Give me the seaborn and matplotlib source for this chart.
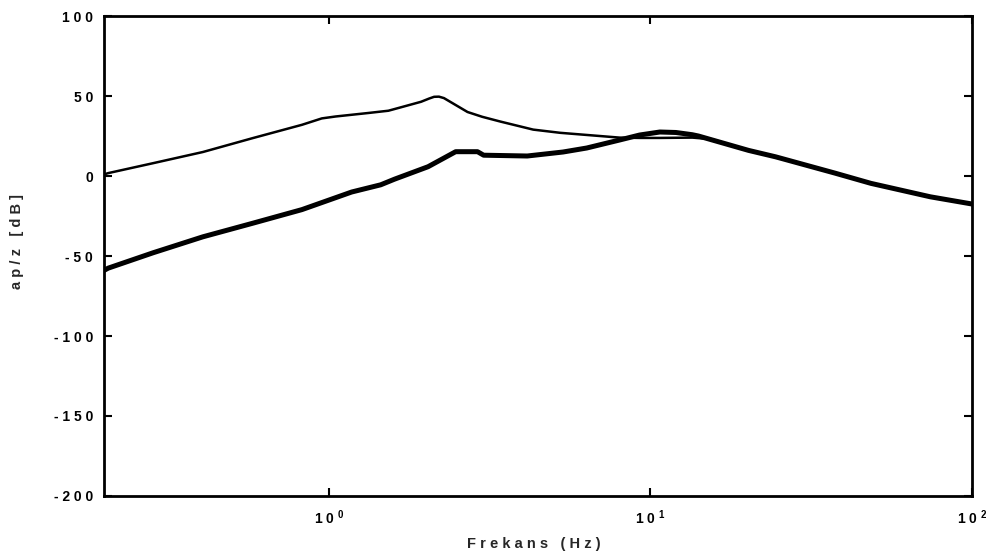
import matplotlib
matplotlib.use("Agg")
import matplotlib.pyplot as plt
import matplotlib.ticker as mticker
import numpy as np
import pandas as pd
import seaborn as sns

# Frequency response data (frequency in Hz, magnitude in dB)
freq_thin = [0.2, 0.206, 0.284, 0.406, 0.578, 0.825, 0.951, 1.05, 1.329, 1.532,
             1.68, 1.936, 2.05, 2.125, 2.2, 2.28, 2.45, 2.70, 3.0, 3.42,
             4.32, 5.24, 6.96, 8.02, 9.25, 10.7, 13.5, 15.5, 20.2, 24.5,
             37.5, 48.5, 74.2, 100.0]
mag_thin = [1.0, 1.8, 8.0, 15.0, 23.6, 32.0, 36.0, 37.2, 39.4, 40.8,
            43.0, 46.4, 48.4, 49.5, 49.6, 48.7, 45.0, 40.0, 37.0, 34.0,
            29.0, 27.0, 25.0, 24.0, 23.8, 23.8, 24.0, 23.0, 16.0, 12.0,
            1.8, -4.6, -13.0, -17.5]

freq_thick = [0.2, 0.206, 0.284, 0.406, 0.578, 0.825, 1.178, 1.45, 1.6, 2.035,
              2.48, 2.90, 3.03, 4.14, 5.35, 6.34, 8.02, 9.25, 10.7, 12.0,
              13.5, 14.1, 20.2, 24.5, 37.5, 48.5, 74.2, 100.0]
mag_thick = [-59.0, -57.6, -48.0, -38.0, -29.6, -21.0, -10.0, -5.5, -2.0, 5.8,
             15.2, 15.2, 13.0, 12.5, 15.0, 17.5, 22.5, 25.6, 27.5, 27.2,
             25.8, 25.0, 16.0, 12.0, 1.8, -4.6, -13.0, -17.5]

y_ticks = [-200, -150, -100, -50, 0, 50, 100]
x_ticks = [1, 10, 100]
x_label = "Frekans (Hz)"
y_label = "ap/z [dB]"


def spaced(s):
    """Spread characters out, as in the old plotter lettering."""
    return " ".join(s)


sns.set_style("ticks")
plt.rcParams["font.family"] = ["Liberation Sans", "DejaVu Sans"]
plt.rcParams["font.weight"] = "bold"
plt.rcParams["mathtext.fontset"] = "custom"
plt.rcParams["mathtext.rm"] = "Liberation Sans:bold"
plt.rcParams["mathtext.it"] = "Liberation Sans:bold"
plt.rcParams["mathtext.bf"] = "Liberation Sans:bold"

fig = plt.figure(figsize=(9.87, 5.54), dpi=100)
ax = fig.add_axes([0.1054, 0.1047, 0.8794, 0.8664])

df_thin = pd.DataFrame({"f": freq_thin, "dB": mag_thin})
df_thick = pd.DataFrame({"f": freq_thick, "dB": mag_thick})

sns.lineplot(data=df_thin, x="f", y="dB", ax=ax, color="black",
             linewidth=1.8, sort=False, estimator=None)
sns.lineplot(data=df_thick, x="f", y="dB", ax=ax, color="black",
             linewidth=3.6, sort=False, estimator=None)

ax.set_xscale("log")
ax.set_xlim(0.2, 100)
ax.set_ylim(-200, 100)

ax.set_xticks(x_ticks)
ax.xaxis.set_minor_locator(mticker.NullLocator())
ax.set_xticklabels([spaced("10") + " $^{%d}$" % int(np.log10(v)) for v in x_ticks])
ax.set_yticks(y_ticks)
ax.set_yticklabels([spaced(str(v)) for v in y_ticks])

ax.tick_params(axis="both", which="major", direction="in", length=6, width=1.5,
               top=True, right=True, labelsize=10, colors="black")
ax.tick_params(axis="x", pad=9)
ax.tick_params(axis="y", pad=8)

for sp in ax.spines.values():
    sp.set_visible(True)
    sp.set_linewidth(2.0)
    sp.set_color("black")

ax.set_xlabel(spaced("Frekans") + "   " + spaced("(Hz)"), fontsize=10.5,
              fontweight="bold", labelpad=7)
ax.set_ylabel(spaced("ap/z") + "   " + spaced("[dB]"), fontsize=10.5,
              fontweight="bold")
ax.yaxis.set_label_coords(-0.092, 0.53)
ax.xaxis.set_label_coords(0.495, -0.085)

fig.savefig("out.png", dpi=100, facecolor="white")
